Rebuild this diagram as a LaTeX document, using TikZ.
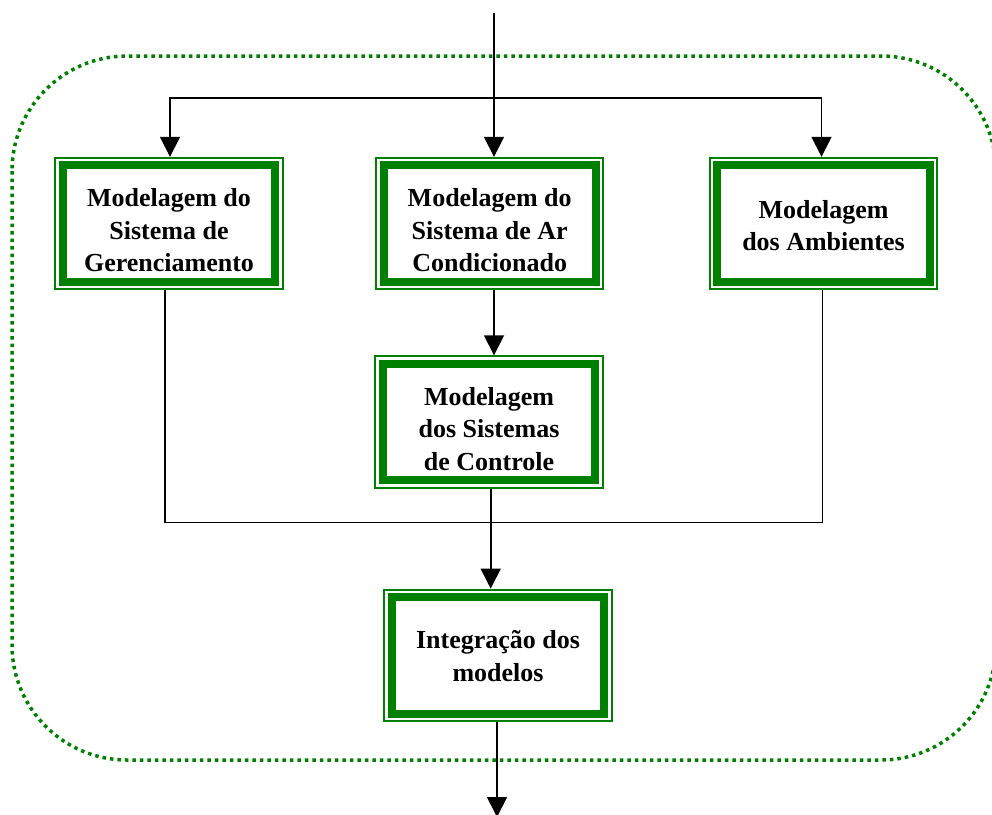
\documentclass[tikz,border=0pt]{standalone}
\usepackage{fontspec}
\setmainfont{Liberation Serif}
\usetikzlibrary{arrows.meta}
\definecolor{dgreen}{HTML}{008000}
\newcommand{\toppad}[1]{\rule{0pt}{#1}}
\begin{document}
\begin{tikzpicture}[x=1pt,y=-1pt,
  modbox/.style={rectangle, minimum width=229pt, minimum height=133pt, inner sep=0pt,
    align=center, font=\bfseries\fontsize{26}{32.5}\selectfont},
  thinframe/.style={draw=dgreen, line width=2pt},
  thickframe/.style={draw=dgreen, line width=8pt},
  conn/.style={draw=black, line width=1.7pt},
  arr/.style={conn, -{Triangle[width=20pt,length=20pt]}},
  group/.style={draw=dgreen, line width=3.5pt, dash pattern=on 3.5pt off 4pt, rounded corners=115pt}]
\useasboundingbox (0,0) rectangle (992,814);

% dotted group outline
\draw[group] (12,56) rectangle (996,760);

% process boxes (the strut on the first line sets the text slightly low)
\node[modbox] (ger) at (169,223.5) {\toppad{32pt}Modelagem do\\Sistema de\\Gerenciamento};
\node[modbox] (arc) at (489.7,223.5) {\toppad{32pt}Modelagem do\\Sistema de Ar\\Condicionado};
\node[modbox] (amb) at (823.5,223.5) {\toppad{22pt}Modelagem\\dos Ambientes};
\node[modbox] (ctl) at (489,422) {\toppad{32pt}Modelagem\\dos Sistemas\\de Controle};
\node[modbox] (int) at (498,655.3) {\toppad{20pt}Integração dos\\modelos};

% double green borders: thin outer line, thick inner line
\foreach \n in {ger,arc,amb,ctl,int}{
  \draw[thinframe] ([shift={(1,1)}]\n.north west) rectangle ([shift={(-1,-1)}]\n.south east);
  \draw[thickframe] ([shift={(8.5,8.5)}]\n.north west) rectangle ([shift={(-8.5,-8.5)}]\n.south east);
}

% input and fan-out
\coordinate (in) at (494,13);
\coordinate (fan) at (494,98);
\coordinate (out) at (497,817);
\coordinate (join) at (490.7,522.5);

\draw[arr] (in) -- (in |- arc.north);
\draw[arr] (fan) -| ([xshift=1pt]ger.north);
\draw[arr] (fan) -| ([xshift=-2pt]amb.north);
\draw[arr] ([xshift=4.3pt]arc.south) -- ([xshift=4.3pt]arc.south |- ctl.north);

% merge into integration
\draw[conn] ([xshift=-4pt]ger.south) |- (join) -| ([xshift=-1pt]amb.south);
\draw[arr] ([xshift=1.7pt]ctl.south) -- ([xshift=1.7pt]ctl.south |- int.north);
\draw[arr] (out |- int.south) -- (out);
\end{tikzpicture}
\end{document}
